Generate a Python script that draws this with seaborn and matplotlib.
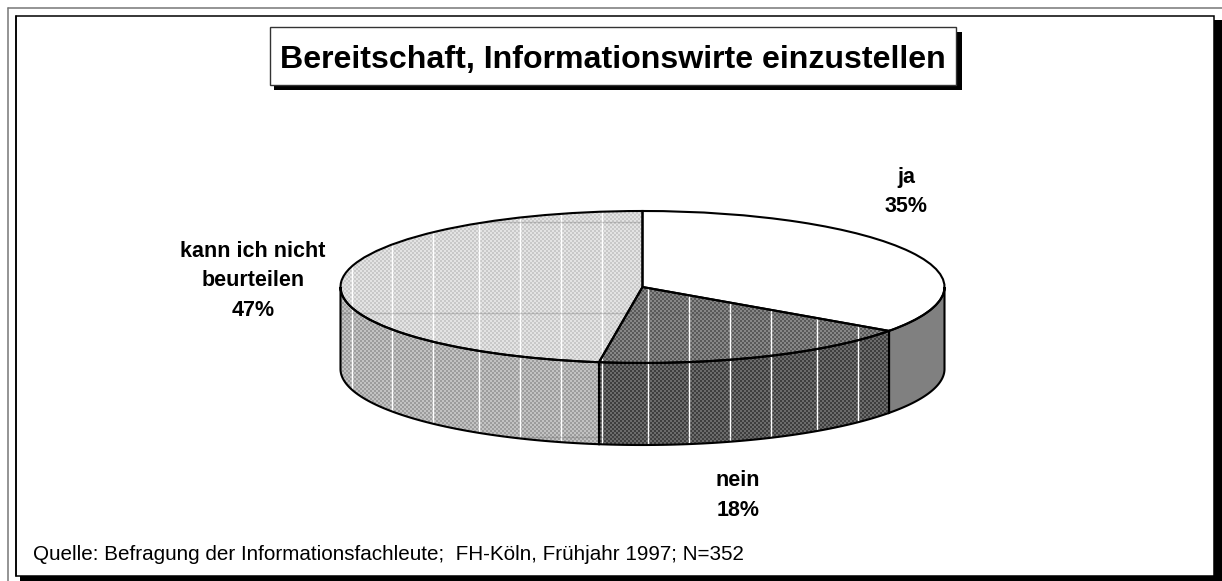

# Bereitschaft, Informationswirte einzustellen - 3D style pie with dithered fills
import numpy as np
import matplotlib
matplotlib.use('Agg')
import matplotlib.pyplot as plt
from matplotlib.patches import Rectangle
import seaborn as sns

categories = ['ja', 'nein', 'kann ich nicht\nbeurteilen']
pct_labels = ['35%', '18%', '47%']
# slice shares as measured on the drawn pie
slice_shares = [34.8, 17.5, 47.7]

title = 'Bereitschaft, Informationswirte einzustellen'
source = 'Quelle: Befragung der Informationsfachleute;  FH-Köln, Frühjahr 1997; N=352'

W, H = 1222, 581
CX, CY = 642.5, 287.0   # pie centre in pixels
RX, RY = 302.0, 76.0    # ellipse radii in pixels
DEPTH = 82.0 / RY       # wall height

sns.set_theme(style='white')
plt.rcParams['font.family'] = ['Liberation Sans', 'DejaVu Sans']

fig = plt.figure(figsize=(W / 100, H / 100), dpi=100, facecolor='white')

# pixel axes for frame and text
bg = fig.add_axes([0, 0, 1, 1])
bg.set_xlim(0, W)
bg.set_ylim(H, 0)
bg.axis('off')

bg.add_patch(Rectangle((20, 20), W - 20, H - 20, fc='black', ec='none'))
bg.add_patch(Rectangle((16, 16), 1198, 560, fc='white', ec='black', lw=1.1))
bg.plot([8, W], [8, 8], color='#777777', lw=1.1)
bg.plot([8, 8], [8, H], color='#777777', lw=1.1)
bg.plot([16, 16], [16, 576], color='black', lw=1.1)

bg.add_patch(Rectangle((274, 32), 688, 58, fc='black', ec='none'))
bg.add_patch(Rectangle((270, 27), 686, 58, fc='white', ec='#333333', lw=1.0))
bg.text(612.5, 60, title, ha='center', va='center', fontsize=23.1, fontweight='bold', color='black')

label_font = dict(ha='center', va='center', fontsize=15.5, fontweight='bold', color='black', linespacing=1.56)
bg.text(906, 192, categories[0] + '\n' + pct_labels[0], **label_font)
bg.text(738, 495.5, categories[1] + '\n' + pct_labels[1], **label_font)
bg.text(253, 281, categories[2] + '\n' + pct_labels[2], **label_font)
bg.text(33, 555, source, ha='left', va='center', fontsize=14.9, color='black')

# pie axes: one unit is RX pixels across and RY pixels up
ax = fig.add_axes([0, 0, 1, 1])
ax.patch.set_alpha(0)
wedges, _ = ax.pie(slice_shares, startangle=90, counterclock=False, radius=1,
                   wedgeprops=dict(edgecolor='black', linewidth=1.5))
xlim = (-CX / RX, (W - CX) / RX)
ylim = ((CY - H) / RY, CY / RY)


def dither(light, dark):
    yy, xx = np.indices((H, W))
    on = ((xx // 2 + yy // 2) % 2).astype(float)
    return dark + (light - dark) * on


def fill_texture(patch, light, dark, z):
    im = ax.imshow(dither(light, dark), cmap='gray', vmin=0, vmax=255, interpolation='nearest',
                   extent=(xlim[0], xlim[1], ylim[0], ylim[1]), aspect='auto', zorder=z)
    im.set_clip_path(patch)


def grid_lines(patch, z):
    # the fine tile lines of the original fill
    for px in [352, 392, 433, 479, 520, 561, 602, 648, 689, 730, 771, 817, 858]:
        ln = ax.axvline((px - CX) / RX, color='white', lw=1.0, zorder=z)
        ln.set_clip_path(patch)
    for py in [222, 313, 437]:
        ln = ax.axhline((CY - py) / RY, color='#555555', lw=1.0, alpha=0.25, zorder=z)
        ln.set_clip_path(patch)


# side walls follow the slice angles on the front half of the ellipse
ends = 90 - np.cumsum([0] + slice_shares) * 3.6
walls = []
for a, b in zip(ends[:-1], ends[1:]):
    lo, hi = max(b, -180), min(a, 0)
    t = np.radians(np.linspace(hi, lo, 80))
    xs = np.cos(t)
    ys = np.sin(t)
    poly = ax.fill(np.r_[xs, xs[::-1]], np.r_[ys, ys[::-1] - DEPTH], fc='none', ec='black', lw=1.5, zorder=5)[0]
    walls.append(poly)

# (light, dark) grey of each dither
top_fill = [(255, 255), (135, 90), (228, 200)]
wall_fill = [(128, 128), (108, 62), (194, 156)]

for i, (w, p) in enumerate(zip(wedges, walls)):
    w.set_facecolor('none')
    w.set_zorder(6)
    fill_texture(w, *top_fill[i], 2)
    fill_texture(p, *wall_fill[i], 2)
    if i > 0:
        grid_lines(w, 3)
        grid_lines(p, 3)

ax.set_aspect('auto')
ax.set_xlim(*xlim)
ax.set_ylim(*ylim)
ax.axis('off')

fig.savefig('out.png', dpi=100)
